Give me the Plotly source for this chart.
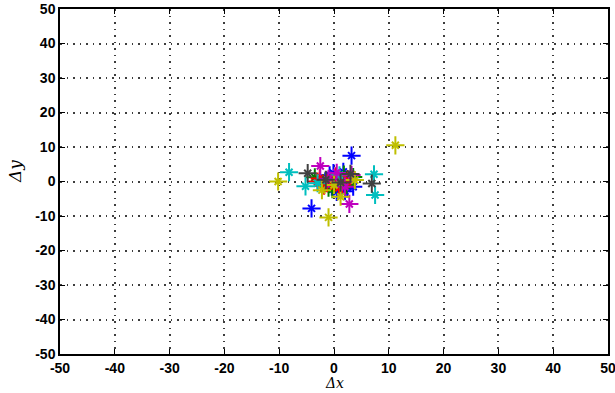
import plotly.graph_objects as go

# series: (color, x values, y values)
blue_x = [-4.1, 3.2, -0.1, 1.7, -0.4, 0.5, 2.4, 1.0, -1.5, 3.0, 2.0, -0.8, 1.3, 3.5]
blue_y = [-7.8, 7.5, 2.4, 2.8, -1.5, -3.0, -2.0, 1.0, 0.0, 0.5, -2.8, 1.8, -0.8, -1.5]
green_x = [-3.5, 2.3, -1.0, 0.8, 1.8, -2.0, 3.5, -0.3]
green_y = [1.2, -1.0, -1.8, 0.5, 2.0, -0.5, 1.3, -2.2]
red_x = [-1.3, -2.6, 0.3, 1.5, -0.5, 2.5, -1.8, 0.9, -3.0]
red_y = [-0.5, 0.9, 1.5, -0.8, 0.2, 0.6, -1.2, -1.8, 0.0]
cyan_x = [-8.2, -5.2, 7.3, 7.5, -3.0, 1.0]
cyan_y = [2.7, -1.4, 2.1, -3.9, -0.5, 1.8]
magenta_x = [-2.5, 2.8, 3.2, 0.5, -1.0, 2.0]
magenta_y = [4.5, -6.5, 1.9, 2.5, 0.8, -1.5]
yellow_x = [-10.2, -1.0, 11.2, 1.2, 3.8, -2.2, 0.0]
yellow_y = [0.0, -10.4, 10.5, -4.4, 0.4, -2.5, -1.0]
black_x = [-4.8, 6.9, -1.5, 1.2, 3.0]
black_y = [2.4, -0.6, 0.5, -0.3, 2.2]

series = [
    ("rgb(0,0,255)", blue_x, blue_y),
    ("rgb(0,128,0)", green_x, green_y),
    ("rgb(255,0,0)", red_x, red_y),
    ("rgb(0,191,191)", cyan_x, cyan_y),
    ("rgb(191,0,191)", magenta_x, magenta_y),
    ("rgb(191,191,0)", yellow_x, yellow_y),
    ("rgb(64,64,64)", black_x, black_y),
]

ticks = list(range(-50, 51, 10))

fig = go.Figure()
for color, xs, ys in series:
    # MATLAB '*' marker: a '+' with shorter diagonal strokes
    fig.add_trace(go.Scatter(
        x=xs, y=ys, mode="markers",
        marker=dict(symbol="cross-thin-open", size=13, color=color,
                    line=dict(color=color, width=2)),
        showlegend=False, hoverinfo="skip"))
    fig.add_trace(go.Scatter(
        x=xs, y=ys, mode="markers",
        marker=dict(symbol="x-thin-open", size=7, color=color,
                    line=dict(color=color, width=2)),
        showlegend=False))

axis_common = dict(
    range=[-50, 50], tickvals=ticks, ticktext=[str(t) for t in ticks],
    showgrid=True, gridcolor="rgba(40,40,40,0.9)", griddash="1.5px,5px", gridwidth=1.5,
    zeroline=False, showline=True, linecolor="black", linewidth=1.5,
    mirror="ticks", ticks="inside", ticklen=5, tickcolor="black",
    tickfont=dict(family="Liberation Sans, Arial", size=14, color="black", weight="bold"),
    automargin=False, ticklabeloverflow="allow",
)

fig.update_xaxes(**axis_common)
fig.update_yaxes(**axis_common)

fig.add_annotation(text="Δx", xref="paper", yref="paper", x=0.5, y=-(393 - 354) / 345,
                   xanchor="center", yanchor="bottom", showarrow=False,
                   font=dict(family="DejaVu Serif", size=14, style="italic", color="black"))
fig.add_annotation(text="Δy", xref="paper", yref="paper", x=(15 - 60) / 548, y=(354 - 172) / 345,
                   xanchor="center", yanchor="middle", textangle=-90, showarrow=False,
                   font=dict(family="DejaVu Serif", size=17, style="italic", color="black"))

fig.update_layout(
    width=615, height=393,
    margin=dict(l=60, r=7, t=9, b=39),
    paper_bgcolor="white", plot_bgcolor="white",
)

fig.write_html("out.html")
